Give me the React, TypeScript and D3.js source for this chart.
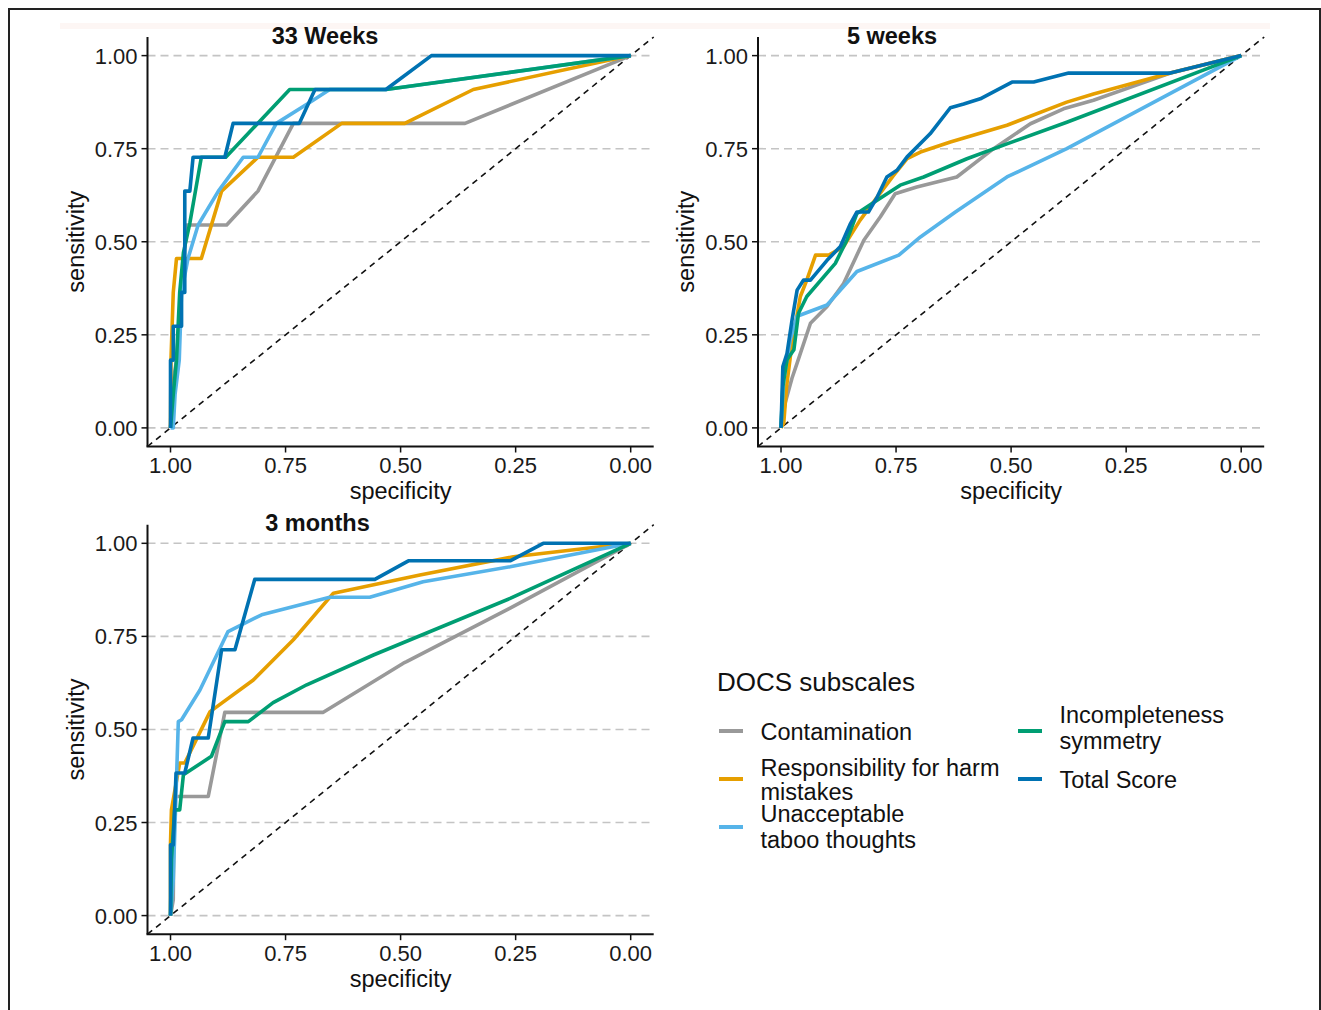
import React from 'react';
import * as d3 from 'd3';

type Pt = [number, number]; // [specificity, sensitivity]

const subscales = ['Contamination', 'Responsibility for harm mistakes', 'Unacceptable taboo thoughts', 'Incompleteness symmetry', 'Total Score'];
const legendLines = [['Contamination'], ['Responsibility for harm', 'mistakes'], ['Unacceptable', 'taboo thoughts'], ['Incompleteness', 'symmetry'], ['Total Score']];
const colors = ['#999999', '#E69F00', '#56B4E9', '#009E73', '#0072B2'];
const specTicks = [1, 0.75, 0.5, 0.25, 0];
const sensTicks = [0, 0.25, 0.5, 0.75, 1];

// 33 weeks
const w33Contam: Pt[] = [[1, 0], [.998, .091], [.987, .182], [.976, .364], [.965, .545], [.878, .545], [.81, .636], [.733, .818], [.36, .818], [0, 1]];
const w33Resp: Pt[] = [[1, 0], [.999, .182], [.994, .364], [.987, .455], [.933, .455], [.889, .636], [.81, .727], [.733, .727], [.628, .818], [.491, .818], [.342, .909], [0, 1]];
const w33Taboo: Pt[] = [[1, 0], [.994, 0], [.99, .091], [.981, .182], [.976, .364], [.962, .455], [.94, .545], [.896, .636], [.842, .727], [.81, .727], [.77, .818], [.69, .88], [.654, .909], [.532, .909], [0, 1]];
const w33Incompl: Pt[] = [[1, 0], [.994, .091], [.987, .182], [.98, .364], [.972, .47], [.958, .55], [.933, .727], [.88, .727], [.741, .909], [.532, .909], [0, 1]];
const w33Total: Pt[] = [[1, 0], [1, .182], [.994, .182], [.994, .273], [.976, .273], [.976, .364], [.969, .364], [.969, .636], [.958, .636], [.951, .727], [.882, .727], [.864, .818], [.72, .818], [.686, .909], [.532, .909], [.433, 1], [0, 1]];

// 5 weeks
const w5Contam: Pt[] = [[1, 0], [.991, .067], [.976, .134], [.965, .174], [.936, .281], [.9, .326], [.864, .388], [.82, .504], [.784, .567], [.752, .629], [.705, .647], [.618, .674], [.538, .75], [.458, .817], [.386, .857], [.321, .88], [.154, .953], [0, 1]];
const w5Resp: Pt[] = [[1, 0], [.994, .013], [.988, .11], [.976, .228], [.958, .353], [.944, .397], [.925, .464], [.896, .464], [.864, .487], [.828, .558], [.791, .62], [.755, .679], [.726, .723], [.697, .741], [.632, .768], [.509, .813], [.379, .875], [.321, .897], [.154, .953], [0, 1]];
const w5Taboo: Pt[] = [[1, 0], [.994, .13], [.98, .237], [.965, .3], [.9, .33], [.835, .42], [.744, .464], [.697, .513], [.621, .58], [.509, .674], [.379, .75], [0, 1]];
const w5Incompl: Pt[] = [[1, 0], [.996, .112], [.987, .183], [.972, .21], [.962, .308], [.944, .353], [.882, .442], [.857, .504], [.835, .576], [.802, .603], [.741, .652], [.69, .674], [.596, .723], [.509, .763], [.379, .821], [0, 1]];
const w5Total: Pt[] = [[1, 0], [.996, .165], [.987, .2], [.976, .29], [.965, .37], [.951, .397], [.936, .397], [.9, .45], [.871, .487], [.849, .549], [.835, .58], [.81, .58], [.791, .62], [.77, .674], [.748, .692], [.726, .728], [.676, .79], [.632, .86], [.603, .87], [.567, .884], [.498, .929], [.451, .929], [.375, .953], [.154, .953], [0, 1]];

// 3 months
const m3Contam: Pt[] = [[1, 0], [.994, .043], [.993, .195], [.991, .32], [.918, .32], [.882, .546], [.668, .546], [.494, .678], [.487, .682], [.262, .826], [0, 1]];
const m3Resp: Pt[] = [[1, 0], [1, .195], [.998, .284], [.98, .41], [.969, .41], [.914, .548], [.82, .633], [.733, .741], [.646, .866], [.458, .915], [.255, .964], [0, 1]];
const m3Taboo: Pt[] = [[1, 0], [.994, .097], [.983, .521], [.976, .526], [.936, .606], [.875, .763], [.802, .808], [.654, .855], [.567, .855], [.451, .897], [.262, .937], [0, 1]];
const m3Incompl: Pt[] = [[1, 0], [.998, .15], [.991, .284], [.98, .284], [.972, .378], [.911, .428], [.882, .521], [.831, .521], [.777, .572], [.704, .62], [.559, .7], [.262, .852], [0, 1]];
const m3Total: Pt[] = [[1, 0], [1, .19], [.994, .19], [.988, .383], [.969, .383], [.951, .477], [.918, .477], [.889, .714], [.86, .714], [.817, .903], [.556, .903], [.483, .953], [.262, .953], [.19, 1], [0, 1]];

const FONT = '"Liberation Sans", Arial, sans-serif';

const panels = [
  { title: '33 Weeks', titleX: 325, left: 147.5, right: 653.7, top: 37, bottom: 446.5, series: [w33Contam, w33Resp, w33Taboo, w33Incompl, w33Total] },
  { title: '5 weeks', titleX: 892, left: 758, right: 1264.2, top: 37, bottom: 446.5, series: [w5Contam, w5Resp, w5Taboo, w5Incompl, w5Total] },
  { title: '3 months', titleX: 317.5, left: 147.5, right: 653.7, top: 524.7, bottom: 934.2, series: [m3Contam, m3Resp, m3Taboo, m3Incompl, m3Total] },
];

const fmt = d3.format('.2f');

function Panel({ p }: { p: typeof panels[number] }) {
  const x = d3.scaleLinear().domain([1.05, -0.05]).range([p.left, p.right]);
  const y = d3.scaleLinear().domain([-0.05, 1.05]).range([p.bottom, p.top]);
  const line = d3.line<Pt>().x(d => x(d[0])).y(d => y(d[1]));
  return (
    <g>
      {/* grid */}
      {sensTicks.map(t => (
        <line key={'g' + t} x1={p.left} x2={p.right} y1={y(t)} y2={y(t)} stroke="#c4c4c4" strokeWidth={1.6} strokeDasharray="8,5" />
      ))}
      {/* reference diagonal */}
      <line x1={x(1.05)} y1={y(-0.05)} x2={x(-0.05)} y2={y(1.05)} stroke="#111" strokeWidth={1.6} strokeDasharray="6,5" />
      {p.series.map((s, i) => (
        <path key={subscales[i]} d={line(s) || ''} fill="none" stroke={colors[i]} strokeWidth={3.6} strokeLinejoin="round" />
      ))}
      {/* axes */}
      <line x1={p.left} x2={p.left} y1={p.top} y2={p.bottom} stroke="#111" strokeWidth={2} />
      <line x1={p.left - 1} x2={p.right} y1={p.bottom} y2={p.bottom} stroke="#111" strokeWidth={2} />
      {sensTicks.map(t => (
        <g key={'y' + t}>
          <line x1={p.left - 6} x2={p.left} y1={y(t)} y2={y(t)} stroke="#111" strokeWidth={1.5} />
          <text x={p.left - 10} y={y(t) + 8} textAnchor="end" fontSize={22} fontFamily={FONT} fill="#1a1a1a">{fmt(t)}</text>
        </g>
      ))}
      {specTicks.map(t => (
        <g key={'x' + t}>
          <line x1={x(t)} x2={x(t)} y1={p.bottom} y2={p.bottom + 6} stroke="#111" strokeWidth={1.5} />
          <text x={x(t)} y={p.bottom + 26.5} textAnchor="middle" fontSize={22} fontFamily={FONT} fill="#1a1a1a">{fmt(t)}</text>
        </g>
      ))}
      <text x={(p.left + p.right) / 2} y={p.bottom + 52.5} textAnchor="middle" fontSize={23.5} fontFamily={FONT} fill="#111">specificity</text>
      <text transform={`translate(${p.left - 72},${(p.top + p.bottom) / 2}) rotate(-90)`} textAnchor="middle" dy="0.35em" fontSize={23.5} fontFamily={FONT} fill="#111">sensitivity</text>
      <text x={p.titleX} y={p.top + 6.5} textAnchor="middle" fontSize={23.5} fontWeight="bold" fontFamily={FONT} fill="#111">{p.title}</text>
    </g>
  );
}

function Legend() {
  const items = [
    { col: 0, keyY: 731, base: [740] },
    { col: 0, keyY: 779, base: [776, 800] },
    { col: 0, keyY: 827, base: [822, 847.5] },
    { col: 1, keyY: 731, base: [723, 748.5] },
    { col: 1, keyY: 779, base: [788] },
  ];
  const keyX = [719, 1018];
  return (
    <g fontFamily={FONT}>
      <text x={717} y={690.5} fontSize={26} fill="#111">DOCS subscales</text>
      {items.map((it, i) => (
        <g key={subscales[i]}>
          <line x1={keyX[it.col]} x2={keyX[it.col] + 24} y1={it.keyY} y2={it.keyY} stroke={colors[i]} strokeWidth={4} />
          {legendLines[i].map((l, j) => (
            <text key={l} x={keyX[it.col] + 41.5} y={it.base[j]} fontSize={23.5} fill="#111">{l}</text>
          ))}
        </g>
      ))}
    </g>
  );
}

export default function App() {
  return (
    <div style={{ position: 'absolute', left: 0, top: 0 }}>
      <svg width={1321} height={1010} style={{ display: 'block', background: '#fff' }}>
        <rect x={0} y={0} width={1321} height={1010} fill="#fff" />
        <rect x={9} y={9} width={1311} height={1020} fill="none" stroke="#222" strokeWidth={2} />
        <rect x={60} y={23} width={1210} height={6} fill="#fdf6f4" />
        {panels.map(p => <Panel key={p.title} p={p} />)}
        <Legend />
      </svg>
    </div>
  );
}
